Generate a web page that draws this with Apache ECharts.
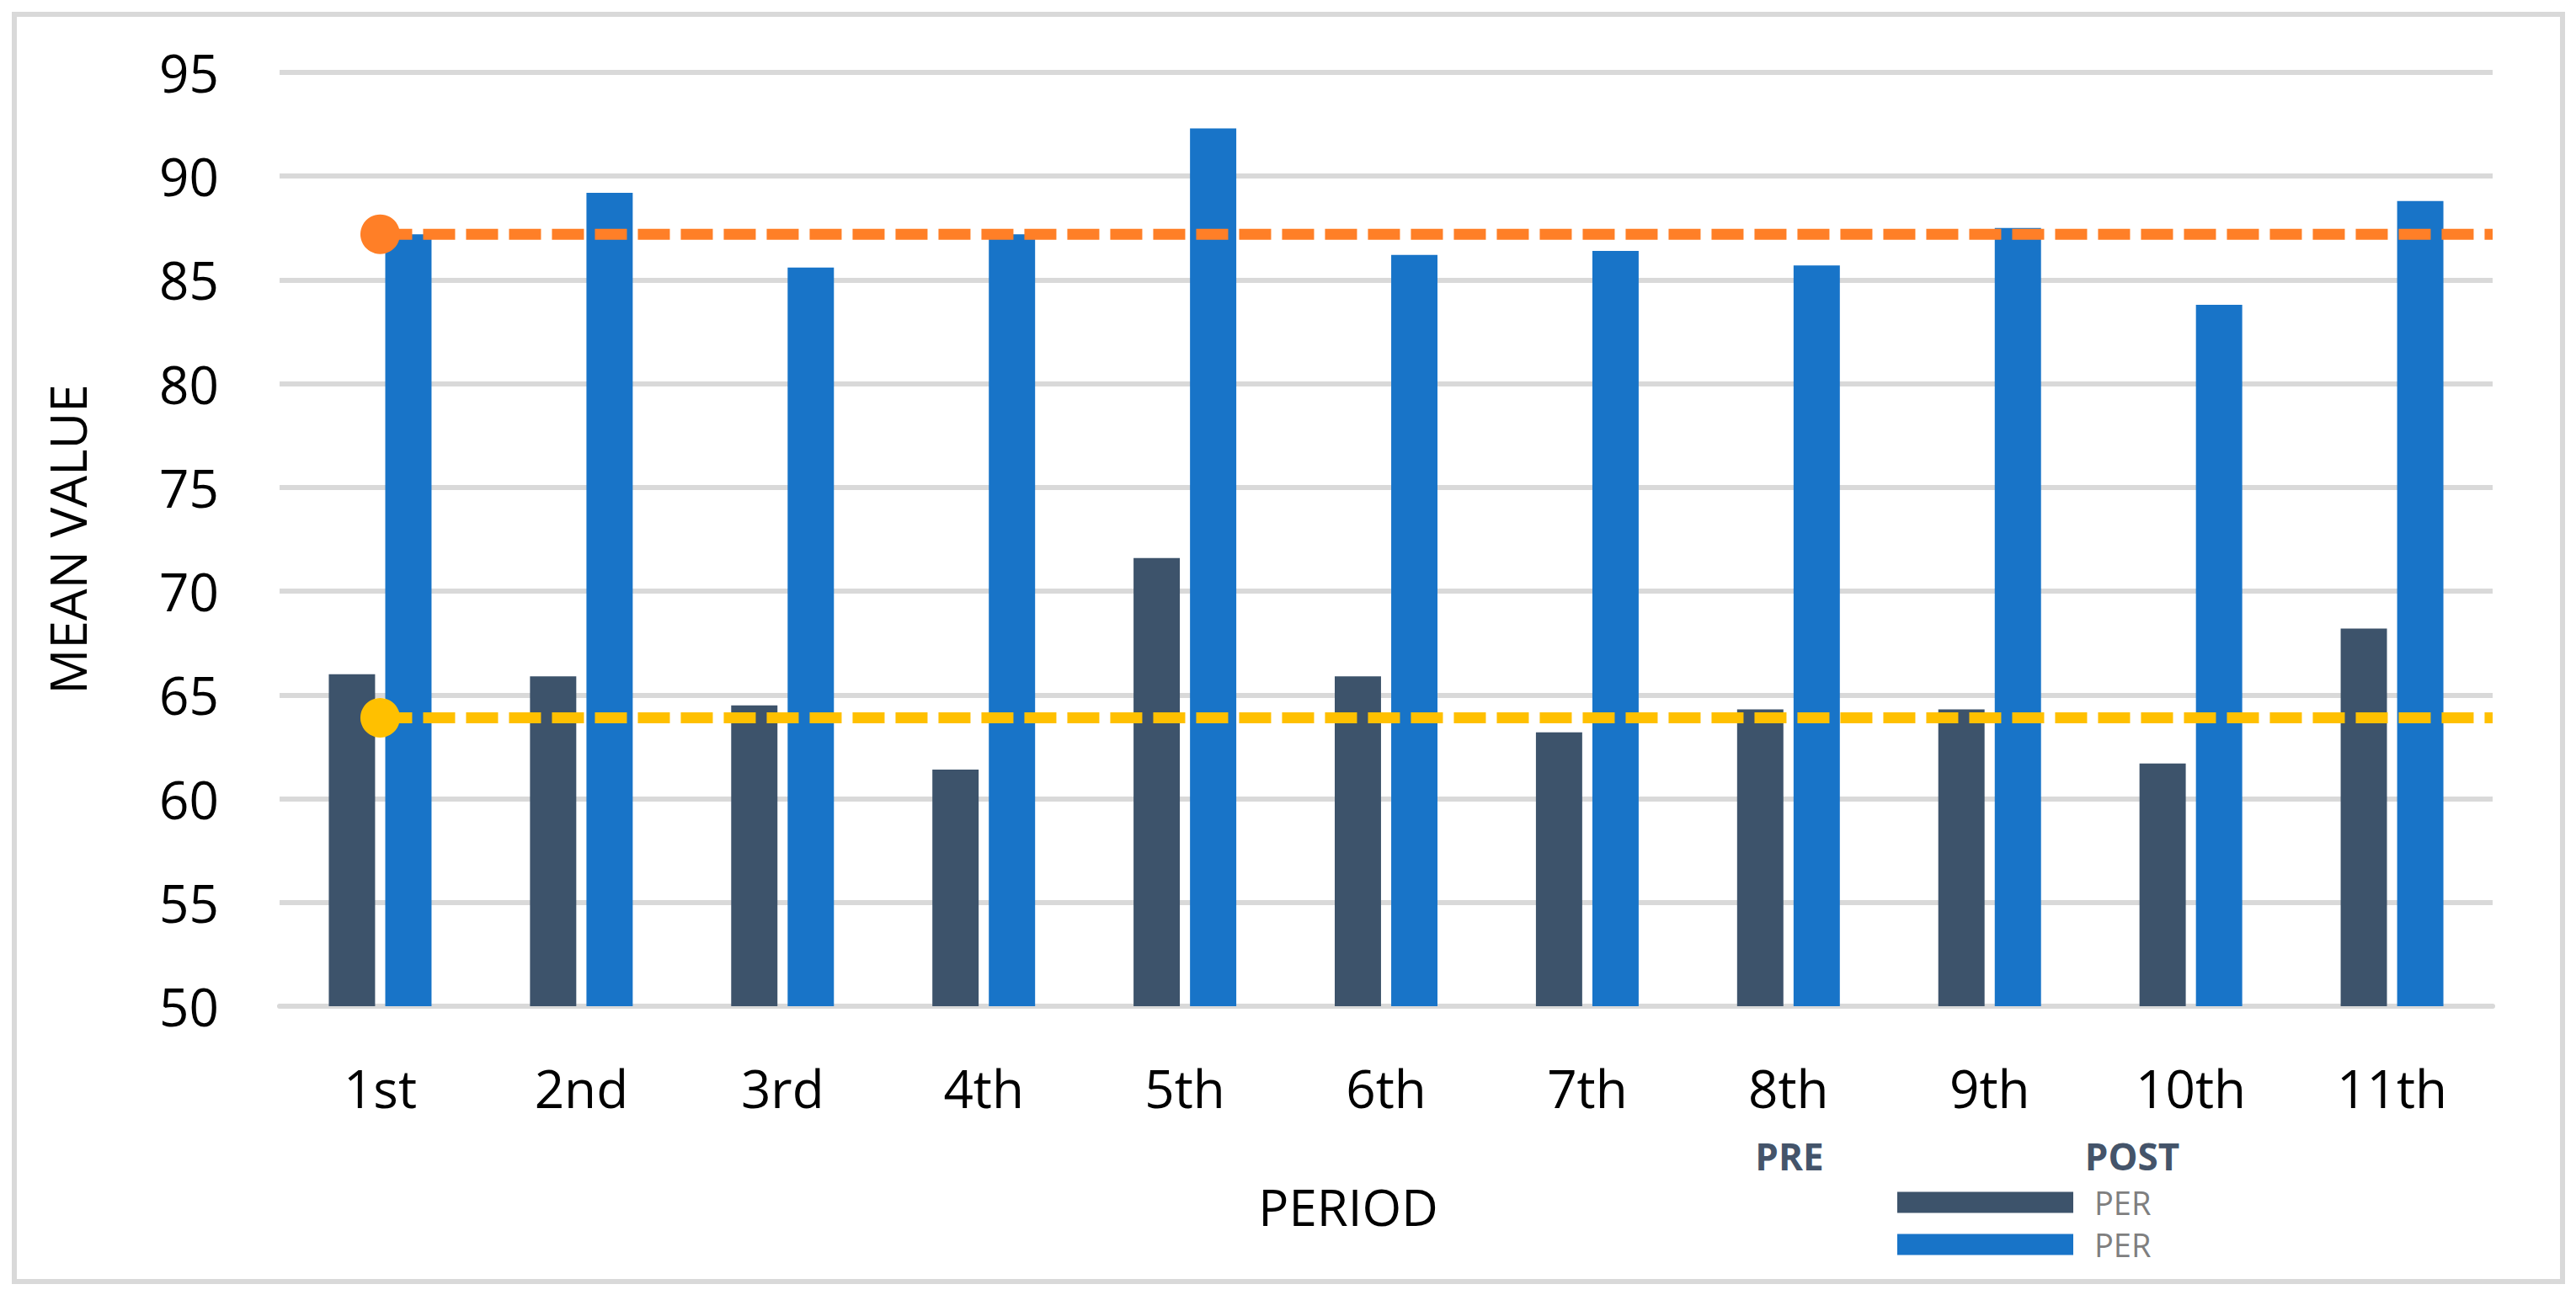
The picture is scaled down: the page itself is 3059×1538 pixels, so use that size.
<!DOCTYPE html>
<html>
<head>
<meta charset="utf-8">
<script src="https://cdn.jsdelivr.net/npm/echarts@6/dist/echarts.min.js"></script>
<style>
html,body{margin:0;padding:0;background:#fff;}
#chart{width:3059px;height:1538px;}
</style>
</head>
<body>
<div id="chart"></div>
<script>
const categories = ['1st','2nd','3rd','4th','5th','6th','7th','8th','9th','10th','11th'];
const preValues  = [66.0, 65.9, 64.5, 61.4, 71.6, 65.9, 63.2, 64.3, 64.3, 61.7, 68.2];
const postValues = [87.2, 89.2, 85.6, 87.2, 92.3, 86.2, 86.4, 85.7, 87.5, 83.8, 88.8];
const postRefLine = 87.2;
const preRefLine = 63.9;
const yTicks = {min: 50, max: 95, interval: 5};
const legendHeaders = ['PRE', 'POST'];
const legendLabel = 'PER';

const FONT = '"Open Sans", "Noto Sans", sans-serif';
const chart = echarts.init(document.getElementById('chart'), null, {renderer: 'svg'});

function refLine(name, value, color) {
  return {
    name: name,
    type: 'line',
    xAxisIndex: 1,
    z: 5,
    silent: true,
    data: [
      {value: [0.5, value], symbol: 'circle', symbolSize: 47},
      {value: [categories.length, value], symbol: 'none'}
    ],
    itemStyle: {color: color},
    lineStyle: {color: color, width: 13, type: [38, 13]},
    animation: false
  };
}

chart.setOption({
  backgroundColor: '#ffffff',
  animation: false,
  grid: {left: 332, right: 99, top: 86, bottom: 343, containLabel: false},
  legend: {
    orient: 'vertical',
    left: 2253,
    top: 1409,
    itemWidth: 209,
    itemHeight: 25,
    itemGap: 12,
    icon: 'rect',
    padding: 0,
    data: ['PRE PER', 'POST PER'],
    formatter: function () { return legendLabel; },
    textStyle: {fontFamily: FONT, fontSize: 38, color: '#7f7f7f', padding: [0, 0, 0, 20]}
  },
  xAxis: [
    {
      type: 'category',
      data: categories,
      name: 'PERIOD',
      nameLocation: 'middle',
      nameGap: 208,
      nameTextStyle: {fontFamily: FONT, fontSize: 60, color: '#000', padding: [0, 90, 0, 0]},
      axisLine: {lineStyle: {color: '#d9d9d9', width: 6}},
      axisTick: {show: false},
      axisLabel: {fontFamily: FONT, fontSize: 62, color: '#000', margin: 66}
    },
    {
      type: 'value',
      min: 0,
      max: categories.length,
      show: false
    }
  ],
  yAxis: {
    type: 'value',
    min: yTicks.min,
    max: yTicks.max,
    interval: yTicks.interval,
    name: 'MEAN VALUE',
    nameLocation: 'middle',
    nameGap: 222,
    nameTextStyle: {fontFamily: FONT, fontSize: 60, color: '#000'},
    axisLine: {show: false},
    axisTick: {show: false},
    axisLabel: {fontFamily: FONT, fontSize: 62, color: '#000', margin: 72},
    splitLine: {lineStyle: {color: '#d9d9d9', width: 6}}
  },
  series: [
    {
      name: 'PRE PER',
      type: 'bar',
      data: preValues,
      barWidth: '23%',
      barGap: '22%',
      itemStyle: {color: '#3d536b'}
    },
    {
      name: 'POST PER',
      type: 'bar',
      data: postValues,
      barWidth: '23%',
      barGap: '22%',
      itemStyle: {color: '#1874c8'}
    },
    refLine('POST reference', postRefLine, '#ff7f27'),
    refLine('PRE reference', preRefLine, '#ffc000')
  ],
  graphic: [
    {
      type: 'rect',
      z: -1,
      shape: {x: 17, y: 17, width: 3026, height: 1505},
      style: {fill: 'none', stroke: '#d9d9d9', lineWidth: 6}
    },
    {
      type: 'text',
      x: 2125, y: 1373,
      style: {text: legendHeaders[0], font: 'bold 44px ' + FONT, fill: '#44546a', textAlign: 'center', textVerticalAlign: 'middle'}
    },
    {
      type: 'text',
      x: 2532, y: 1373,
      style: {text: legendHeaders[1], font: 'bold 44px ' + FONT, fill: '#44546a', textAlign: 'center', textVerticalAlign: 'middle'}
    }
  ]
});
</script>
</body>
</html>
